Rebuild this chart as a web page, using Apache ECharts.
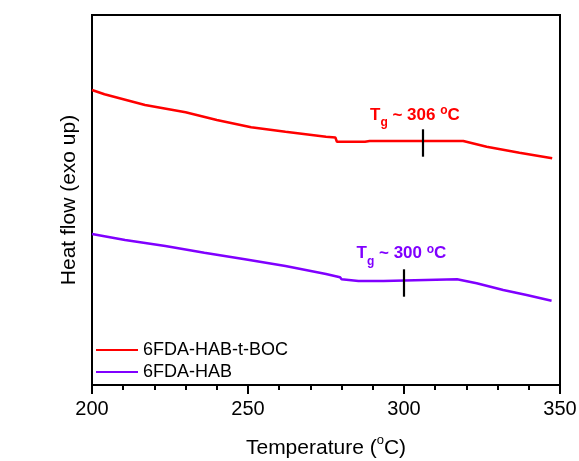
<!DOCTYPE html>
<html>
<head>
<meta charset="utf-8">
<script src="https://cdn.jsdelivr.net/npm/echarts@6/dist/echarts.min.js"></script>
<style>
  html, body { margin: 0; padding: 0; background: #fff; }
  #chart { width: 579px; height: 461px; }
</style>
</head>
<body>
<div id="chart"></div>
<script>
// DSC traces, heat flow in arbitrary units (exo up)
const seriesNames = ['6FDA-HAB-t-BOC', '6FDA-HAB'];
const seriesColors = ['#ff0000', '#8000ff'];

const tempBoc = [200, 204, 217, 230, 240, 251, 262, 275, 278, 278.5, 287.5, 289, 319, 326.5, 337, 347.5];
const heatBoc = [29.5, 29.07, 28.0, 27.27, 26.5, 25.77, 25.33, 24.83, 24.75, 24.33, 24.33, 24.4, 24.4, 23.83, 23.23, 22.67];

const tempHab = [200, 210.6, 223.5, 236, 249, 262, 275, 279.5, 280, 285.4, 293.4, 294, 317, 323.3, 331.8, 339.3, 347.3];
const heatHab = [15.1, 14.5, 13.9, 13.23, 12.57, 11.9, 11.1, 10.78, 10.57, 10.4, 10.4, 10.57, 10.57, 10.17, 9.5, 9.0, 8.43];

// glass transition markers: temperature, marker span, label anchor (left, below text)
const tgTemps = [306, 300];
const tgSpanLow = [22.83, 8.83];
const tgSpanHigh = [25.57, 11.57];
const tgLabelX = [289.1, 284.8];
const tgLabelY = [25.79, 11.93];

const xTicks = [200, 250, 300, 350];

const pairs = (xs, ys) => xs.map((x, i) => [x, ys[i]]);

const font = 'Arial, "Liberation Sans", sans-serif';

function tgLabel(t) {
  return '{m|T}{s|g}{m| ~ ' + t + ' }{o|o}{m|C}';
}

// all tokens share one line box; sub/superscripts are shifted with padding
function tgRich(color) {
  const base = { fontFamily: font, fontWeight: 'bold', color: color, lineHeight: 24, verticalAlign: 'middle' };
  return {
    m: Object.assign({}, base, { fontSize: 17 }),
    s: Object.assign({}, base, { fontSize: 12, padding: [15, 0, 0, 0] }),
    o: Object.assign({}, base, { fontSize: 12, padding: [0, 0, 9, 0] })
  };
}

function makeSeries(idx, xs, ys) {
  const color = seriesColors[idx];
  return {
    name: seriesNames[idx],
    type: 'line',
    data: pairs(xs, ys),
    symbol: 'none',
    smooth: false,
    lineStyle: { color: color, width: 2.5 },
    itemStyle: { color: color },
    z: 3,
    markLine: {
      silent: true,
      symbol: 'none',
      label: { show: false },
      lineStyle: { color: '#000', width: 2.2, type: 'solid' },
      data: [[
        { coord: [tgTemps[idx], tgSpanLow[idx]] },
        { coord: [tgTemps[idx], tgSpanHigh[idx]] }
      ]]
    },
    markPoint: {
      silent: true,
      symbol: 'circle',
      symbolSize: 0,
      data: [{ coord: [tgLabelX[idx], tgLabelY[idx]] }],
      label: {
        show: true,
        position: 'inside',
        align: 'left',
        verticalAlign: 'bottom',
        formatter: tgLabel(tgTemps[idx]),
        rich: tgRich(color)
      }
    }
  };
}

const chart = echarts.init(document.getElementById('chart'), null, { renderer: 'canvas' });

chart.setOption({
  backgroundColor: '#ffffff',
  animation: false,
  grid: {
    left: 92, right: 19, top: 15, bottom: 76,
    containLabel: false,
    outerBoundsMode: 'none',
    show: true, borderColor: '#000', borderWidth: 2, backgroundColor: 'transparent'
  },
  legend: {
    orient: 'vertical',
    left: 91, top: 336,
    itemWidth: 42, itemHeight: 14, itemGap: 4,
    icon: 'path://M0,6 L42,6 L42,8 L0,8 Z',
    data: seriesNames,
    textStyle: { fontFamily: font, fontSize: 18, color: '#000' }
  },
  xAxis: {
    type: 'value',
    min: 200, max: 350, interval: 50,
    name: '{t|Temperature (}{o|o}{t|C)}',
    nameLocation: 'middle',
    nameGap: 50,
    nameTextStyle: {
      rich: {
        t: { fontFamily: font, fontSize: 21, color: '#000', lineHeight: 26, verticalAlign: 'middle' },
        o: { fontFamily: font, fontSize: 13, color: '#000', lineHeight: 26, verticalAlign: 'middle', padding: [0, 0, 16, 0] }
      }
    },
    axisLine: { show: true, onZero: false, lineStyle: { color: '#000', width: 2 } },
    axisTick: { show: true, inside: false, length: 9, lineStyle: { color: '#000', width: 2 } },
    minorTick: { show: true, splitNumber: 5, length: 5, lineStyle: { color: '#000', width: 2 } },
    splitLine: { show: false },
    axisLabel: {
      fontFamily: font, fontSize: 20, color: '#000', margin: 14,
      formatter: v => (xTicks.indexOf(v) >= 0 ? String(v) : '')
    }
  },
  yAxis: {
    type: 'value',
    min: 0, max: 37,
    name: 'Heat flow (exo up)',
    nameLocation: 'middle',
    nameGap: 12,
    nameTextStyle: { fontFamily: font, fontSize: 21, color: '#000' },
    axisLine: { show: true, lineStyle: { color: '#000', width: 2 } },
    axisTick: { show: false },
    axisLabel: { show: false },
    splitLine: { show: false }
  },
  series: [
    makeSeries(0, tempBoc, heatBoc),
    makeSeries(1, tempHab, heatHab)
  ]
});
</script>
</body>
</html>
